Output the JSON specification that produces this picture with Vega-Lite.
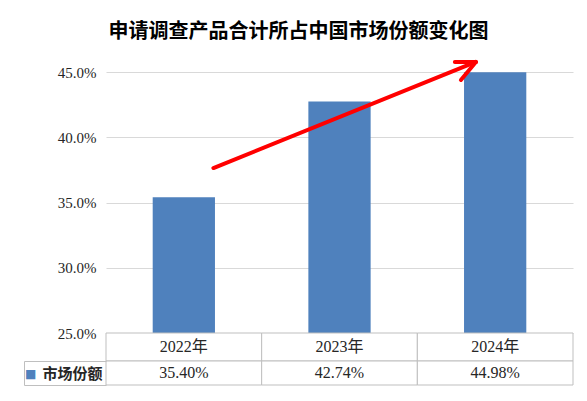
{
  "$schema": "https://vega.github.io/schema/vega-lite/v6.json",
  "background": "white",
  "padding": {"left": 23, "top": 21, "right": 15, "bottom": 16},
  "title": {
    "text": "申请调查产品合计所占中国市场份额变化图",
    "font": "Noto Sans CJK SC",
    "fontSize": 20,
    "fontWeight": "bold",
    "color": "#000000",
    "anchor": "middle",
    "offset": 18
  },
  "datasets": {
    "share": [
      {"year": "2022年", "series": "市场份额", "share": 35.40, "label": "35.40%"},
      {"year": "2023年", "series": "市场份额", "share": 42.74, "label": "42.74%"},
      {"year": "2024年", "series": "市场份额", "share": 44.98, "label": "44.98%"}
    ],
    "arrow": [
      {"part": "shaft", "x": 0.69, "y": 37.64, "x2": 2.376, "y2": 45.77},
      {"part": "head1", "x": 2.376, "y": 45.77, "x2": 2.241, "y2": 45.77},
      {"part": "head2", "x": 2.376, "y": 45.77, "x2": 2.28, "y2": 44.39}
    ]
  },
  "config": {"view": {"stroke": null}},
  "spacing": 0,
  "bounds": "flush",
  "resolve": {"scale": {"x": "independent", "y": "independent"}},
  "vconcat": [
    {
      "width": 467,
      "height": 261,
      "layer": [
        {
          "data": {"name": "share"},
          "mark": {"type": "bar", "color": "#4f81bd"},
          "encoding": {
            "x": {
              "field": "year",
              "type": "nominal",
              "axis": null,
              "scale": {"paddingInner": 0.6, "paddingOuter": 0.3}
            },
            "y": {
              "field": "share",
              "type": "quantitative",
              "scale": {"domain": [25, 45], "nice": false, "zero": false},
              "axis": {
                "values": [25, 30, 35, 40, 45],
                "labelExpr": "format(datum.value, '.1f') + '%'",
                "title": null,
                "domain": false,
                "ticks": false,
                "grid": true,
                "gridColor": "#d9d9d9",
                "labelFont": "Liberation Serif",
                "labelFontSize": 15,
                "labelColor": "#262626",
                "labelPadding": 10
              }
            },
            "y2": {"datum": 25}
          }
        },
        {
          "data": {"name": "arrow"},
          "mark": {"type": "rule", "color": "#ff0000", "strokeWidth": 4, "strokeCap": "round"},
          "encoding": {
            "x": {"field": "x", "type": "quantitative", "scale": {"domain": [0, 3], "nice": false}, "axis": null},
            "x2": {"field": "x2"},
            "y": {"field": "y", "type": "quantitative"},
            "y2": {"field": "y2"}
          }
        }
      ],
      "resolve": {"scale": {"x": "independent"}}
    },
    {
      "width": 467,
      "height": 28,
      "data": {"name": "share"},
      "encoding": {
        "x": {
          "field": "year",
          "type": "nominal",
          "axis": null,
          "scale": {"paddingInner": 0, "paddingOuter": 0}
        }
      },
      "layer": [
        {"mark": {"type": "rect", "fill": "white", "stroke": "#bfbfbf", "strokeWidth": 1}},
        {
          "mark": {"type": "text", "font": "Liberation Serif, Noto Sans CJK SC", "fontSize": 16, "color": "#262626"},
          "encoding": {"text": {"field": "year"}}
        }
      ]
    },
    {
      "width": 467,
      "height": 24,
      "data": {"name": "share"},
      "encoding": {
        "x": {
          "field": "year",
          "type": "nominal",
          "axis": null,
          "scale": {"paddingInner": 0, "paddingOuter": 0}
        },
        "y": {
          "field": "series",
          "type": "nominal",
          "scale": {"paddingInner": 0, "paddingOuter": 0},
          "axis": {
            "orient": "left",
            "offset": 82,
            "domain": true,
            "domainColor": "#bfbfbf",
            "ticks": true,
            "tickBand": "extent",
            "tickSize": -82,
            "tickColor": "#bfbfbf",
            "labelFont": "Noto Sans CJK SC",
            "labelFontSize": 15,
            "labelFontWeight": "bold",
            "labelColor": "#262626",
            "labelPadding": 4,
            "title": "■",
            "titleFont": "DejaVu Sans",
            "titleColor": "#4f81bd",
            "titleFontSize": 12,
            "titleFontWeight": "normal",
            "titleAngle": 0,
            "titleBaseline": "middle",
            "titleAlign": "left",
            "titlePadding": -1
          }
        }
      },
      "layer": [
        {"mark": {"type": "rect", "fill": "white", "stroke": "#bfbfbf", "strokeWidth": 1}},
        {
          "mark": {"type": "text", "font": "Liberation Serif", "fontSize": 16, "color": "#262626"},
          "encoding": {"text": {"field": "label"}}
        }
      ]
    }
  ]
}
